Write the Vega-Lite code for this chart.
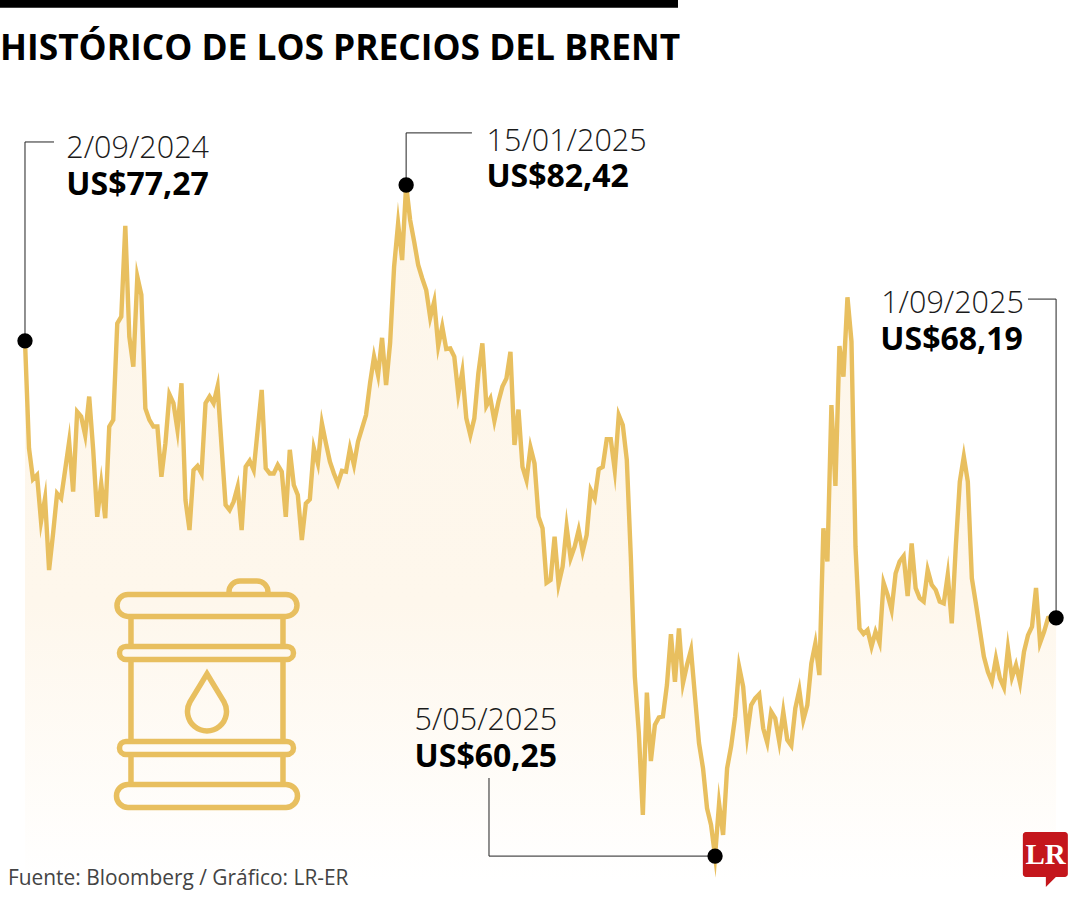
{"$schema":"https://vega.github.io/schema/vega-lite/v6.json","width":1080,"height":900,"padding":0,"autosize":{"type":"fit","contains":"padding"},"background":"white","config":{"view":{"stroke":null}},
"datasets":{"brent":[{"t":0,"usd":77.27},{"t":1,"usd":73.72},{"t":2,"usd":72.7},{"t":3,"usd":72.84},{"t":4,"usd":71.3},{"t":5,"usd":72.07},{"t":6,"usd":69.7},{"t":7,"usd":70.91},{"t":8,"usd":72.23},{"t":9,"usd":72.07},{"t":10,"usd":73},{"t":11,"usd":73.94},{"t":12,"usd":72.29},{"t":13,"usd":74.93},{"t":14,"usd":74.77},{"t":15,"usd":74.16},{"t":16,"usd":75.43},{"t":17,"usd":73.67},{"t":18,"usd":71.46},{"t":19,"usd":72.56},{"t":20,"usd":71.41},{"t":21,"usd":74.44},{"t":22,"usd":74.66},{"t":23,"usd":77.85},{"t":24,"usd":78.07},{"t":25,"usd":81.07},{"t":26,"usd":77.41},{"t":27,"usd":76.42},{"t":28,"usd":79.39},{"t":29,"usd":78.79},{"t":30,"usd":75.04},{"t":31,"usd":74.66},{"t":32,"usd":74.44},{"t":33,"usd":74.44},{"t":34,"usd":72.78},{"t":35,"usd":73.89},{"t":36,"usd":75.5},{"t":37,"usd":75.21},{"t":38,"usd":74.33},{"t":39,"usd":75.87},{"t":40,"usd":72.01},{"t":41,"usd":71.02},{"t":42,"usd":73},{"t":43,"usd":73.14},{"t":44,"usd":72.89},{"t":45,"usd":75.21},{"t":46,"usd":75.43},{"t":47,"usd":75.21},{"t":48,"usd":75.76},{"t":49,"usd":73.78},{"t":50,"usd":71.85},{"t":51,"usd":71.68},{"t":52,"usd":71.96},{"t":53,"usd":72.45},{"t":54,"usd":71.02},{"t":55,"usd":73.11},{"t":56,"usd":73.31},{"t":57,"usd":73},{"t":58,"usd":74.33},{"t":59,"usd":75.65},{"t":60,"usd":73.06},{"t":61,"usd":72.89},{"t":62,"usd":72.89},{"t":63,"usd":73.17},{"t":64,"usd":72.95},{"t":65,"usd":71.46},{"t":66,"usd":73.67},{"t":67,"usd":72.51},{"t":68,"usd":72.18},{"t":69,"usd":70.69},{"t":70,"usd":71.9},{"t":71,"usd":72.04},{"t":72,"usd":73.72},{"t":73,"usd":73.22},{"t":74,"usd":74.55},{"t":75,"usd":73.89},{"t":76,"usd":73.28},{"t":77,"usd":72.89},{"t":78,"usd":72.56},{"t":79,"usd":72.98},{"t":80,"usd":72.95},{"t":81,"usd":73.72},{"t":82,"usd":73.17},{"t":83,"usd":73.94},{"t":84,"usd":74.38},{"t":85,"usd":74.82},{"t":86,"usd":75.87},{"t":87,"usd":76.75},{"t":88,"usd":76.14},{"t":89,"usd":77.37},{"t":90,"usd":75.81},{"t":91,"usd":77.19},{"t":92,"usd":79.72},{"t":93,"usd":81.15},{"t":94,"usd":79.94},{"t":95,"usd":82.42},{"t":96,"usd":81.26},{"t":97,"usd":80.55},{"t":98,"usd":79.78},{"t":99,"usd":79.34},{"t":100,"usd":78.95},{"t":101,"usd":78.04},{"t":102,"usd":78.57},{"t":103,"usd":77.1},{"t":104,"usd":77.74},{"t":105,"usd":77},{"t":106,"usd":77.02},{"t":107,"usd":76.75},{"t":108,"usd":75.51},{"t":109,"usd":76.25},{"t":110,"usd":74.71},{"t":111,"usd":74.16},{"t":112,"usd":74.71},{"t":113,"usd":76.2},{"t":114,"usd":77.19},{"t":115,"usd":75.12},{"t":116,"usd":75.37},{"t":117,"usd":74.63},{"t":118,"usd":75.26},{"t":119,"usd":75.76},{"t":120,"usd":76.03},{"t":121,"usd":76.91},{"t":122,"usd":73.83},{"t":123,"usd":75},{"t":124,"usd":73.11},{"t":125,"usd":72.67},{"t":126,"usd":73.75},{"t":127,"usd":73.22},{"t":128,"usd":71.46},{"t":129,"usd":71.08},{"t":130,"usd":69.28},{"t":131,"usd":69.37},{"t":132,"usd":70.8},{"t":133,"usd":69.23},{"t":134,"usd":69.81},{"t":135,"usd":71.13},{"t":136,"usd":70.09},{"t":137,"usd":70.47},{"t":138,"usd":71.02},{"t":139,"usd":70.31},{"t":140,"usd":70.86},{"t":141,"usd":72.34},{"t":142,"usd":72.07},{"t":143,"usd":73.03},{"t":144,"usd":73.11},{"t":145,"usd":74.02},{"t":146,"usd":74.02},{"t":147,"usd":73},{"t":148,"usd":74.82},{"t":149,"usd":74.49},{"t":150,"usd":73.34},{"t":151,"usd":70.14},{"t":152,"usd":66.18},{"t":153,"usd":64.31},{"t":154,"usd":61.61},{"t":155,"usd":65.65},{"t":156,"usd":63.39},{"t":157,"usd":64.58},{"t":158,"usd":64.83},{"t":159,"usd":64.86},{"t":160,"usd":65.9},{"t":161,"usd":67.58},{"t":162,"usd":66.01},{"t":163,"usd":67.77},{"t":164,"usd":65.96},{"t":165,"usd":66.56},{"t":166,"usd":67.06},{"t":167,"usd":65.52},{"t":168,"usd":63.98},{"t":169,"usd":63.15},{"t":170,"usd":61.83},{"t":171,"usd":61.28},{"t":172,"usd":60.25},{"t":173,"usd":61.99},{"t":174,"usd":60.95},{"t":175,"usd":63.15},{"t":176,"usd":63.87},{"t":177,"usd":64.86},{"t":178,"usd":66.5},{"t":179,"usd":65.85},{"t":180,"usd":64.25},{"t":181,"usd":65.24},{"t":182,"usd":65.46},{"t":183,"usd":65.6},{"t":184,"usd":64.47},{"t":185,"usd":64},{"t":186,"usd":65.02},{"t":187,"usd":64.8},{"t":188,"usd":64.03},{"t":189,"usd":65.02},{"t":190,"usd":64.09},{"t":191,"usd":63.9},{"t":192,"usd":65.13},{"t":193,"usd":65.74},{"t":194,"usd":64.75},{"t":195,"usd":65.24},{"t":196,"usd":66.62},{"t":197,"usd":67.28},{"t":198,"usd":66.23},{"t":199,"usd":71.08},{"t":200,"usd":69.98},{"t":201,"usd":75.15},{"t":202,"usd":72.48},{"t":203,"usd":77.1},{"t":204,"usd":76.09},{"t":205,"usd":78.71},{"t":206,"usd":77.25},{"t":207,"usd":70.47},{"t":208,"usd":67.77},{"t":209,"usd":67.59},{"t":210,"usd":67.72},{"t":211,"usd":67.17},{"t":212,"usd":67.66},{"t":213,"usd":67.3},{"t":214,"usd":69.28},{"t":215,"usd":68.88},{"t":216,"usd":68.38},{"t":217,"usd":69.59},{"t":218,"usd":69.98},{"t":219,"usd":70.16},{"t":220,"usd":68.84},{"t":221,"usd":70.58},{"t":222,"usd":69.1},{"t":223,"usd":68.77},{"t":224,"usd":68.66},{"t":225,"usd":69.7},{"t":226,"usd":69.21},{"t":227,"usd":69.04},{"t":228,"usd":68.66},{"t":229,"usd":68.6},{"t":230,"usd":69.54},{"t":231,"usd":67.94},{"t":232,"usd":70.47},{"t":233,"usd":72.62},{"t":234,"usd":73.45},{"t":235,"usd":72.62},{"t":236,"usd":69.43},{"t":237,"usd":68.6},{"t":238,"usd":67.72},{"t":239,"usd":66.84},{"t":240,"usd":66.34},{"t":241,"usd":66.01},{"t":242,"usd":66.78},{"t":243,"usd":66.12},{"t":244,"usd":65.82},{"t":245,"usd":67.11},{"t":246,"usd":66.15},{"t":247,"usd":66.56},{"t":248,"usd":65.98},{"t":249,"usd":67},{"t":250,"usd":67.55},{"t":251,"usd":67.83},{"t":252,"usd":69.11},{"t":253,"usd":67.29},{"t":254,"usd":67.66},{"t":255,"usd":68.12},{"t":256,"usd":68.14},{"t":257,"usd":68.12}],
"hitos":[{"t":0,"usd":77.27},{"t":95,"usd":82.42},{"t":172,"usd":60.25},{"t":257,"usd":68.12}]},
"encoding":{"x":{"field":"t","type":"quantitative","axis":null,"scale":{"domain":[-6.23,262.96],"nice":false,"zero":false}},"y":{"field":"usd","type":"quantitative","axis":null,"scale":{"domain":[58.8,88.53],"nice":false,"zero":false}}},
"layer":[
{"data":{"name":"brent"},"mark":{"type":"area","interpolate":"linear","color":{"x1":0,"y1":0,"x2":0,"y2":1,"gradient":"linear","stops":[{"offset":0,"color":"#fdf6ea"},{"offset":0.6,"color":"#fef7ec"},{"offset":1,"color":"#ffffff"}]}},"encoding":{"y2":{"datum":59.4}}},
{"data":{"name":"brent"},"mark":{"type":"line","interpolate":"linear","color":"#e8bf5f","strokeWidth":4.4,"strokeJoin":"miter","strokeMiterLimit":10}},
{"data":{"values":[{"t":45.36,"usd":65.41}]},"mark":{"type":"point","filled":false,"size":4,"color":"#e8bf5f","strokeWidth":5.5,"opacity":1,"shape":"M-79 -105.5H79A11 11 0 0 1 90 -94.5V-94.5A11 11 0 0 1 79 -83.5H-79A11 11 0 0 1 -90 -94.5V-94.5A11 11 0 0 1 -79 -105.5ZM22 -106V-108A11 11 0 0 1 33 -119H50A11 11 0 0 1 61 -108V-106M-76 -83V-53M-76 -40V41M-76 55V84M76 -83V-53M76 -40V41M76 55V84M-81 -53.5H80A6.5 6.5 0 0 1 80 -40.5H-81A6.5 6.5 0 0 1 -81 -53.5ZM-81 41.5H80A6.5 6.5 0 0 1 80 54.5H-81A6.5 6.5 0 0 1 -81 41.5ZM-79 84.5H79A11.5 11.5 0 0 1 79 107.5H-79A11.5 11.5 0 0 1 -79 84.5ZM0 -26L-17 2A19.5 19.5 0 1 0 17 2Z"}},
{"data":{"values":[{"tramo":"a","n":1,"t":0,"usd":77.27},{"tramo":"a","n":2,"t":0,"usd":83.84},{"tramo":"a","n":3,"t":7.23,"usd":83.84},{"tramo":"b","n":1,"t":95,"usd":82.42},{"tramo":"b","n":2,"t":95,"usd":84.14},{"tramo":"b","n":3,"t":111.4,"usd":84.14},{"tramo":"c","n":1,"t":172,"usd":60.25},{"tramo":"c","n":2,"t":115.65,"usd":60.25},{"tramo":"c","n":3,"t":115.65,"usd":62.83},{"tramo":"d","n":1,"t":257,"usd":68.12},{"tramo":"d","n":2,"t":257,"usd":78.65},{"tramo":"d","n":3,"t":250,"usd":78.65}]},"mark":{"type":"line","color":"#222222","strokeWidth":1,"interpolate":"linear"},"encoding":{"detail":{"field":"tramo"},"order":{"field":"n"}}},
{"data":{"name":"hitos"},"mark":{"type":"point","shape":"circle","filled":true,"color":"#000000","size":235,"opacity":1}},
{"data":{"values":[{"t":10.3,"usd":83.31,"txt":"2/09/2024"},{"t":115.05,"usd":83.54,"txt":"15/01/2025"},{"t":213.4,"usd":78.19,"txt":"1/09/2025"},{"t":97.1,"usd":64.42,"txt":"5/05/2025"}]},"mark":{"type":"text","align":"left","baseline":"alphabetic","font":"Open Sans","fontWeight":300,"fontSize":30.5,"color":"#1a1a1a"},"encoding":{"text":{"field":"txt"}}},
{"data":{"values":[{"t":10.3,"usd":82.09,"txt":"US$77,27"},{"t":115,"usd":82.35,"txt":"US$82,42"},{"t":213.2,"usd":76.97,"txt":"US$68,19"},{"t":97.1,"usd":63.19,"txt":"US$60,25"}]},"mark":{"type":"text","align":"left","baseline":"alphabetic","font":"Open Sans","fontWeight":700,"fontSize":32,"color":"#000000"},"encoding":{"text":{"field":"txt"}}},
{"data":{"values":[{"t":-6.23,"t2":162.76,"usd":88.53,"usd2":88.27}]},"mark":{"type":"rect","color":"#000000"},"encoding":{"x2":{"field":"t2"},"y2":{"field":"usd2"}}},
{"data":{"values":[{"t":-6.23,"usd":86.55,"txt":"HISTÓRICO DE LOS PRECIOS DEL BRENT"}]},"mark":{"type":"text","align":"left","baseline":"alphabetic","font":"Open Sans","fontWeight":700,"fontSize":35.3,"color":"#000000"},"encoding":{"text":{"field":"txt"}}},
{"data":{"values":[{"t":-4.24,"usd":59.29,"txt":"Fuente: Bloomberg / Gráfico: LR-ER"}]},"mark":{"type":"text","align":"left","baseline":"alphabetic","font":"Open Sans","fontWeight":400,"fontSize":20.9,"color":"#444444"},"encoding":{"text":{"field":"txt"}}},
{"data":{"values":[{"t":254.2,"usd":60.29}]},"mark":{"type":"point","filled":true,"size":4,"color":"#c4161c","opacity":1,"strokeWidth":0,"shape":"M-22 -20A3 3 0 0 1 -19 -23H20A3 3 0 0 1 23 -20V19A3 3 0 0 1 20 22H11L1 32V22H-19A3 3 0 0 1 -22 19Z"}},
{"data":{"values":[{"t":254.4,"usd":59.98,"txt":"LR"}]},"mark":{"type":"text","align":"center","baseline":"alphabetic","font":"Liberation Serif","fontWeight":700,"fontSize":29,"color":"#ffffff"},"encoding":{"text":{"field":"txt"}}}
]}
